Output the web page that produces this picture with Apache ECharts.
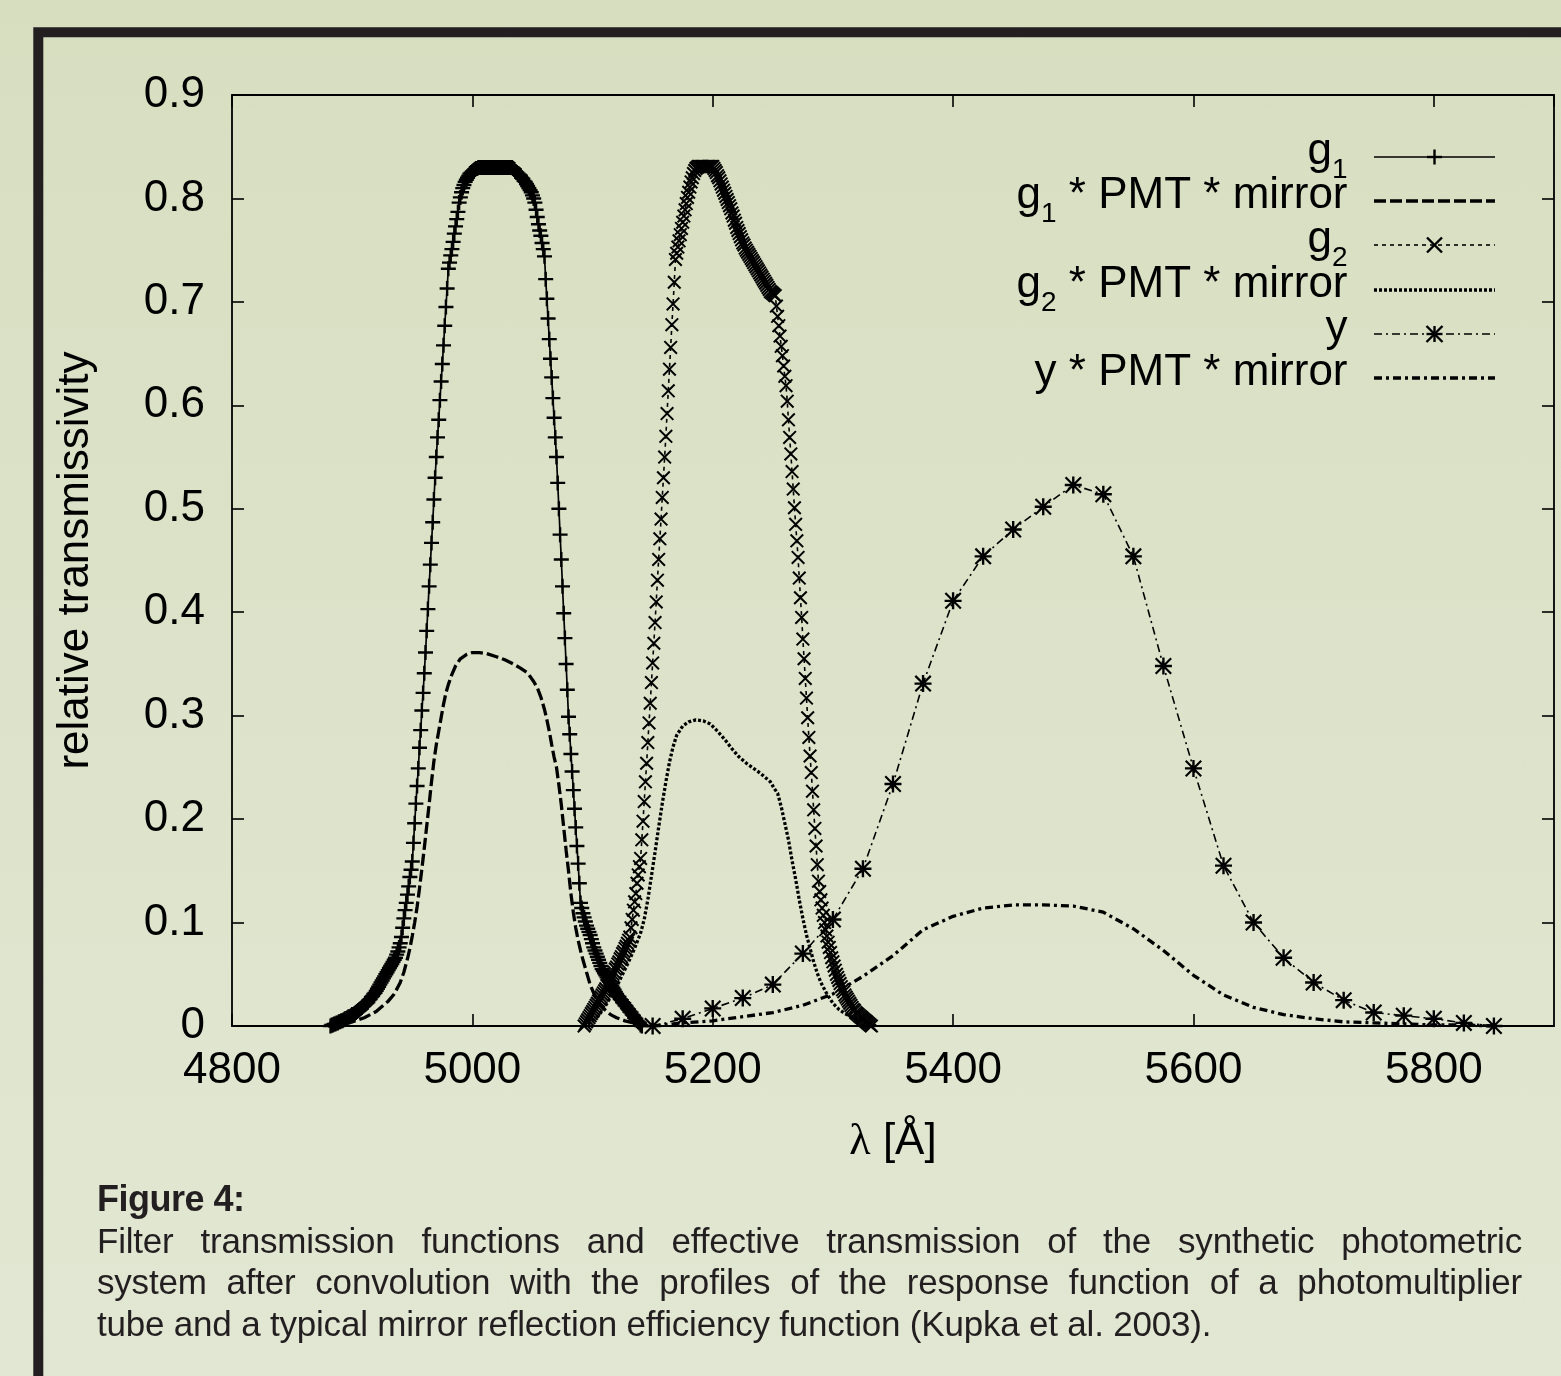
<!DOCTYPE html>
<html>
<head>
<meta charset="utf-8">
<script src="https://cdn.jsdelivr.net/npm/echarts@6/dist/echarts.min.js"></script>
<style>
  html, body { margin: 0; padding: 0; }
  body {
    width: 1561px; height: 1376px; position: relative; overflow: hidden;
    background: linear-gradient(to bottom, #d7dec0 0%, #dde3ca 50%, #e2e7d3 100%);
  }
  #chart { position: absolute; left: 0; top: 0; width: 1561px; height: 1376px; }
  #caption {
    position: absolute; left: 97px; top: 1178px; width: 1425px;
    font-family: "Liberation Sans Narrow", "Liberation Sans", Arial, sans-serif;
    font-size: 35px; line-height: 41.5px; color: #231f20; letter-spacing: -0.2px;
  }
  #caption .title { font-weight: bold; font-size: 36px; letter-spacing: -0.5px; }
  #caption .jl { text-align: justify; text-align-last: justify; }
</style>
</head>
<body>
<div id="chart"></div>
<div id="caption">
  <div class="title">Figure 4:</div>
  <div class="jl">Filter transmission functions and effective transmission of the synthetic photometric</div>
  <div class="jl">system after convolution with the profiles of the response function of a photomultiplier</div>
  <div>tube and a typical mirror reflection efficiency function (Kupka et al. 2003).</div>
</div>
<script>
// g1 filter, sampled every 1 A starting at g1Start
const g1Start = 4882;
const g1Values = [
  0.000,0.001,0.001,0.002,0.002,0.003,0.003,0.004,0.004,0.005,
  0.005,0.006,0.007,0.007,0.008,0.009,0.009,0.010,0.011,0.011,
  0.012,0.013,0.014,0.015,0.016,0.017,0.018,0.019,0.020,0.021,
  0.022,0.023,0.025,0.026,0.028,0.029,0.031,0.032,0.034,0.036,
  0.038,0.040,0.042,0.044,0.046,0.048,0.050,0.052,0.054,0.056,
  0.058,0.060,0.062,0.064,0.066,0.069,0.072,0.076,0.080,0.086,
  0.095,0.104,0.112,0.119,0.127,0.135,0.144,0.151,0.159,0.177,
  0.196,0.215,0.232,0.249,0.269,0.286,0.305,0.322,0.341,0.361,
  0.382,0.403,0.425,0.446,0.467,0.487,0.509,0.530,0.550,0.569,
  0.586,0.605,0.623,0.640,0.658,0.677,0.695,0.713,0.732,0.738,
  0.745,0.751,0.758,0.766,0.773,0.780,0.787,0.796,0.801,0.806,
  0.810,0.813,0.816,0.818,0.820,0.822,0.824,0.825,0.826,0.827,
  0.828,0.829,0.829,0.830,0.830,0.830,0.830,0.830,0.830,0.830,
  0.830,0.830,0.830,0.830,0.830,0.830,0.830,0.830,0.830,0.830,
  0.830,0.830,0.830,0.830,0.830,0.830,0.830,0.830,0.830,0.830,
  0.830,0.830,0.829,0.828,0.826,0.825,0.824,0.823,0.822,0.820,
  0.819,0.817,0.816,0.814,0.812,0.810,0.808,0.806,0.803,0.800,
  0.796,0.789,0.782,0.775,0.769,0.764,0.757,0.751,0.744,0.722,
  0.703,0.684,0.664,0.645,0.627,0.607,0.588,0.569,0.550,0.525,
  0.500,0.475,0.451,0.425,0.399,0.375,0.350,0.325,0.299,0.282,
  0.263,0.246,0.228,0.210,0.192,0.174,0.157,0.138,0.119,0.114,
  0.109,0.105,0.101,0.097,0.094,0.091,0.088,0.084,0.080,0.076,
  0.073,0.070,0.067,0.064,0.061,0.058,0.055,0.053,0.051,0.049,
  0.047,0.045,0.043,0.041,0.039,0.037,0.035,0.033,0.031,0.029,
  0.028,0.026,0.025,0.023,0.022,0.020,0.019,0.017,0.016,0.014,
  0.013,0.011,0.010,0.008,0.007,0.005,0.004,0.003,0.001,0.000
];

// g2 filter, sampled every 1 A starting at g2Start
const g2Start = 5093;
const g2Values = [
  0.000,0.002,0.004,0.006,0.008,0.010,0.012,0.014,0.016,0.018,
  0.020,0.022,0.024,0.026,0.028,0.030,0.032,0.034,0.036,0.039,
  0.041,0.043,0.045,0.048,0.050,0.052,0.055,0.057,0.060,0.062,
  0.065,0.067,0.070,0.072,0.075,0.077,0.080,0.083,0.086,0.095,
  0.103,0.112,0.120,0.128,0.138,0.146,0.154,0.162,0.180,0.198,
  0.217,0.236,0.254,0.274,0.293,0.312,0.332,0.351,0.370,0.390,
  0.410,0.431,0.451,0.471,0.490,0.511,0.530,0.550,0.570,0.592,
  0.614,0.635,0.656,0.678,0.698,0.719,0.741,0.747,0.753,0.759,
  0.765,0.771,0.777,0.783,0.789,0.795,0.801,0.806,0.811,0.816,
  0.820,0.824,0.827,0.829,0.830,0.831,0.831,0.831,0.831,0.831,
  0.831,0.831,0.831,0.831,0.831,0.831,0.831,0.831,0.829,0.827,
  0.825,0.822,0.820,0.817,0.814,0.811,0.808,0.805,0.802,0.799,
  0.796,0.793,0.790,0.786,0.783,0.779,0.776,0.772,0.769,0.766,
  0.763,0.760,0.757,0.755,0.752,0.750,0.748,0.746,0.744,0.742,
  0.740,0.738,0.736,0.734,0.732,0.730,0.728,0.726,0.724,0.722,
  0.720,0.718,0.716,0.714,0.712,0.710,0.709,0.708,0.707,0.706,
  0.696,0.686,0.677,0.667,0.657,0.648,0.638,0.628,0.619,0.604,
  0.586,0.569,0.553,0.536,0.519,0.501,0.485,0.469,0.453,0.433,
  0.414,0.395,0.374,0.355,0.336,0.317,0.298,0.279,0.261,0.245,
  0.227,0.209,0.191,0.174,0.156,0.140,0.130,0.122,0.114,0.107,
  0.100,0.093,0.087,0.081,0.076,0.071,0.066,0.062,0.058,0.054,
  0.050,0.047,0.044,0.041,0.038,0.035,0.033,0.030,0.028,0.026,
  0.024,0.022,0.020,0.018,0.016,0.015,0.013,0.012,0.011,0.010,
  0.009,0.008,0.007,0.006,0.005,0.004,0.003,0.002,0.001,0.000
];

// g1 * PMT * mirror
const g1PmtLambda = [4880,4890,4900,4910,4920,4925,4930,4935,4940,4943,4946,4948,4950,4952,4954,
  4956,4958,4960,4962,4964,4966,4968,4970,4972,4974,4976,4978,4980,4983,4986,4990,4995,5000,5006,
  5012,5020,5027,5034,5040,5045,5048,5051,5054,5057,5060,5062,5064,5066,5068,5070,5072,5074,5076,
  5078,5080,5082,5084,5086,5088,5090,5092,5095,5098,5102,5106,5110,5115,5120,5127,5134,5143];
const g1PmtValues = [0.000,0.001,0.004,0.008,0.014,0.019,0.024,0.031,0.042,0.052,0.065,0.075,0.087,0.100,0.115,
  0.133,0.152,0.172,0.193,0.214,0.236,0.256,0.272,0.285,0.298,0.311,0.322,0.330,0.340,0.348,0.355,0.359,0.361,0.361,
  0.360,0.357,0.354,0.350,0.346,0.342,0.338,0.333,0.327,0.318,0.306,0.296,0.285,0.272,0.260,0.250,0.233,0.214,0.192,
  0.170,0.150,0.128,0.110,0.095,0.083,0.073,0.064,0.052,0.040,0.029,0.021,0.016,0.011,0.008,0.005,0.003,0.000];

// g2 * PMT * mirror
const g2PmtLambda = [5093,5100,5105,5110,5115,5120,5125,5130,5135,5140,5143,5146,5149,5152,5155,5158,5161,5164,
  5167,5170,5175,5180,5186,5192,5198,5204,5210,5216,5222,5228,5234,5240,5245,5248,5251,5254,5257,5260,5263,5266,
  5269,5272,5275,5278,5281,5284,5287,5290,5295,5300,5305,5310,5315,5320,5325,5330,5336];
const g2PmtValues = [0.000,0.005,0.010,0.018,0.028,0.038,0.050,0.062,0.075,0.090,0.103,0.122,0.145,0.168,0.192,0.215,0.236,0.255,
  0.270,0.281,0.290,0.294,0.296,0.295,0.292,0.285,0.277,0.268,0.260,0.254,0.249,0.244,0.239,0.236,0.230,0.225,0.212,0.196,0.180,0.160,
  0.142,0.122,0.104,0.088,0.075,0.062,0.051,0.042,0.031,0.022,0.016,0.012,0.009,0.007,0.005,0.003,0.000];

// y filter and y * PMT * mirror, every 25 A
const yLambda = [5150,5175,5200,5225,5250,5275,5300,5325,5350,5375,5400,5425,5450,5475,5500,
  5525,5550,5575,5600,5625,5650,5675,5700,5725,5750,5775,5800,5825,5850];
const yValues = [0.000,0.007,0.017,0.027,0.040,0.070,0.103,0.152,0.234,0.331,0.411,0.454,0.480,0.502,0.523,
  0.514,0.454,0.348,0.249,0.155,0.100,0.066,0.042,0.025,0.013,0.010,0.007,0.003,0.000];
const yPmtValues = [0.000,0.003,0.005,0.009,0.013,0.020,0.031,0.048,0.068,0.093,0.106,0.114,0.117,0.117,0.116,
  0.110,0.094,0.073,0.049,0.030,0.018,0.011,0.007,0.004,0.003,0.002,0.001,0.001,0.000];

const xTicks = { min: 4800, max: 5900, step: 200 };
const yTicks = { min: 0, max: 0.9, step: 0.1 };

const FONT = '"Liberation Sans", Arial, Helvetica, sans-serif';
// filled marker outlines (gnuplot point types +, x, *)
const PLUS = 'path://M4.2,0H5.8V4.2H10V5.8H5.8V10H4.2V5.8H0V4.2H4.2Z';
const CROSS = 'path://M0,1L1,0L10,9L9,10Z M9,0L10,1L1,10L0,9Z';
const STAR = 'path://M4.3,0H5.7V10H4.3Z M0,4.3H10V5.7H0Z M0,0.9L0.9,0L10,9.1L9.1,10Z M9.1,0L10,0.9L0.9,10L0,9.1Z';

function gridPairs(start, ys) { return ys.map((v, i) => [start + i, v]); }
function pairs(xs, ys) { return xs.map((x, i) => [x, ys[i]]); }

const chart = echarts.init(document.getElementById('chart'), null, { renderer: 'canvas' });

function lineSeries(name, data, width, dash, symbol, size) {
  return {
    type: 'line', name: name, data: data,
    symbol: symbol || 'none', symbolSize: size || 0, showAllSymbol: true,
    clip: false, animation: false,
    lineStyle: { color: '#000', width: width, type: dash || 'solid' },
    itemStyle: { color: '#000', borderWidth: 0 },
    emphasis: { disabled: true }
  };
}

// legend drawn by hand, gnuplot style (text right, sample left)
const legendX = { textRight: 1347.5, lineL: 1374, lineR: 1495, mark: 1434.5 };
const legendRows = [
  { text: '{n|g}{s|1}', y: 157, width: 1.6, dash: null, mark: 'plus' },
  { text: '{n|g}{s|1}{n| * PMT * mirror}', y: 201, width: 3.3, dash: [12, 4], mark: null },
  { text: '{n|g}{s|2}', y: 245, width: 1.6, dash: [4, 4], mark: 'cross' },
  { text: '{n|g}{s|2}{n| * PMT * mirror}', y: 290, width: 3.3, dash: [3, 2], mark: null },
  { text: '{n|y}', y: 334, width: 1.6, dash: [8, 4, 2, 4], mark: 'star' },
  { text: '{n|y * PMT * mirror}', y: 378, width: 3.3, dash: [8, 4, 3, 4], mark: null }
];
const rich = {
  n: { fontSize: 44, fontFamily: FONT, lineHeight: 44, verticalAlign: 'top', color: '#000' },
  s: { fontSize: 28, fontFamily: FONT, lineHeight: 28, padding: [26, 0, 0, 0], verticalAlign: 'top', color: '#000' }
};
function markLines(kind, cx, cy, h) {
  const segs = [];
  if (kind === 'plus' || kind === 'star') {
    segs.push([cx - h, cy, cx + h, cy], [cx, cy - h, cx, cy + h]);
  }
  if (kind === 'cross' || kind === 'star') {
    segs.push([cx - h, cy - h, cx + h, cy + h], [cx - h, cy + h, cx + h, cy - h]);
  }
  return segs.map(s => ({
    type: 'line', silent: true,
    shape: { x1: s[0], y1: s[1], x2: s[2], y2: s[3] },
    style: { stroke: '#000', lineWidth: 2.4 }
  }));
}
const graphics = [
  {
    type: 'rect', silent: true, z: -10,
    shape: { x: 38.3, y: 32.3, width: 1700, height: 1500 },
    style: { fill: 'none', stroke: '#231f20', lineWidth: 10 }
  }
];
legendRows.forEach(r => {
  graphics.push({
    type: 'text', silent: true, x: legendX.textRight, y: r.y - 27,
    style: { text: r.text, align: 'right', verticalAlign: 'top', rich: rich, fill: '#000' }
  });
  graphics.push({
    type: 'line', silent: true,
    shape: { x1: legendX.lineL, y1: r.y, x2: legendX.lineR, y2: r.y },
    style: { stroke: '#000', lineWidth: r.width, lineDash: r.dash }
  });
  if (r.mark) {
    const h = r.mark === 'star' ? 8 : 7.5;
    markLines(r.mark, legendX.mark, r.y, h).forEach(g => graphics.push(g));
  }
});

const axisLineStyle = { color: '#000', width: 1.8 };
const tickStyle = { show: true, inside: true, length: 12, lineStyle: { color: '#000', width: 1.6 } };

const option = {
  animation: false,
  backgroundColor: 'transparent',
  grid: { left: 232, top: 95, right: 7, bottom: 350, containLabel: false },
  xAxis: [
    {
      type: 'value', position: 'bottom',
      min: xTicks.min, max: xTicks.max, interval: xTicks.step,
      axisLine: { show: true, onZero: false, lineStyle: axisLineStyle },
      axisTick: tickStyle,
      axisLabel: {
        margin: 23, fontSize: 44, fontFamily: FONT, color: '#000', showMaxLabel: false,
        formatter: v => String(v)
      },
      splitLine: { show: false },
      name: '{l|λ} [Å]', nameLocation: 'middle', nameGap: 94,
      nameTextStyle: {
        fontSize: 44, fontFamily: FONT, color: '#000',
        rich: { l: { fontSize: 44, fontFamily: '"Liberation Serif", "DejaVu Serif", serif', color: '#000' } }
      }
    },
    {
      type: 'value', position: 'top',
      min: xTicks.min, max: xTicks.max, interval: xTicks.step,
      axisLine: { show: true, onZero: false, lineStyle: axisLineStyle },
      axisTick: tickStyle, axisLabel: { show: false }, splitLine: { show: false }
    }
  ],
  yAxis: [
    {
      type: 'value', position: 'left',
      min: yTicks.min, max: yTicks.max, interval: yTicks.step,
      axisLine: { show: true, onZero: false, lineStyle: axisLineStyle },
      axisTick: tickStyle,
      axisLabel: { margin: 27, fontSize: 44, fontFamily: FONT, color: '#000' },
      splitLine: { show: false },
      name: 'relative transmissivity', nameLocation: 'middle', nameGap: 134,
      nameTextStyle: { fontSize: 44, fontFamily: FONT, color: '#000' }
    },
    {
      type: 'value', position: 'right',
      min: yTicks.min, max: yTicks.max, interval: yTicks.step,
      axisLine: { show: true, onZero: false, lineStyle: axisLineStyle },
      axisTick: tickStyle, axisLabel: { show: false }, splitLine: { show: false }
    }
  ],
  series: [
    lineSeries('g1', gridPairs(g1Start, g1Values), 1.7, 'solid', PLUS, 15),
    lineSeries('g1 * PMT * mirror', pairs(g1PmtLambda, g1PmtValues), 3.3, [12, 4]),
    lineSeries('g2', gridPairs(g2Start, g2Values), 1.6, [4, 4], CROSS, 14),
    lineSeries('g2 * PMT * mirror', pairs(g2PmtLambda, g2PmtValues), 3.3, [3, 2]),
    lineSeries('y', pairs(yLambda, yValues), 1.6, [8, 4, 2, 4], STAR, 17),
    lineSeries('y * PMT * mirror', pairs(yLambda, yPmtValues), 3.3, [8, 4, 3, 4])
  ],
  graphic: graphics
};
chart.setOption(option);
</script>
</body>
</html>
